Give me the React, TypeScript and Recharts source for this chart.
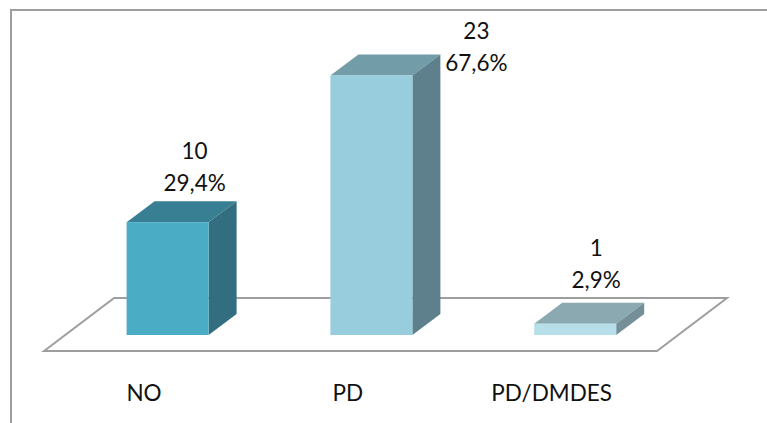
import React from 'react';
import { BarChart, Bar, XAxis, YAxis, LabelList, ReferenceArea } from 'recharts';

const categories = ['NO', 'PD', 'PD/DMDES'];
const counts = [10, 23, 1];
const shares = ['29,4%', '67,6%', '2,9%'];

const tableData = categories.map((name, i) => ({ name, count: counts[i], share: shares[i] }));

// front / top / side shade of each block
const faces = [
  { front: '#4BACC6', top: '#387F93', side: '#326E80' },
  { front: '#97CDDD', top: '#719CA8', side: '#5E7F8C' },
  { front: '#B7DFE9', top: '#8AA9B1', side: '#748F97' },
];

// hand-placed data labels: first baseline relative to the bar's top centre
const labelShift = [
  { dx: 27, dy: -63 },
  { dx: 105, dy: -37 },
  { dx: 21, dy: -68 },
];

const DEPTH_X = 28;
const DEPTH_Y = 21;
const FONT = 'Lato, "Open Sans", sans-serif';
const FONT_SIZE = 22.5;
const LINE = '#9E9E9E';

const Block = (props: any) => {
  const { x, y, width, height, index } = props;
  const c = faces[index];
  const r = x + width;
  const b = y + height;
  return (
    <g>
      <polygon points={`${x},${y} ${x + DEPTH_X},${y - DEPTH_Y} ${r + DEPTH_X},${y - DEPTH_Y} ${r},${y}`} fill={c.top} />
      <polygon points={`${r},${y} ${r + DEPTH_X},${y - DEPTH_Y} ${r + DEPTH_X},${b - DEPTH_Y} ${r},${b}`} fill={c.side} />
      <rect x={x} y={y} width={width} height={height} fill={c.front} />
    </g>
  );
};

// floor plate under the blocks, hung off the plot rectangle
const Floor = (props: any) => {
  const { x, y, width, height } = props;
  const base = y + height;
  const front = base + 16;
  const back = base - 37;
  const points = [
    `${x - 21.5},${front}`,
    `${x + width - 20},${front}`,
    `${x + width + 50},${back}`,
    `${x + 48.5},${back}`,
  ].join(' ');
  return <polygon points={points} fill="#fff" stroke={LINE} strokeWidth={2} />;
};

const CategoryTick = (props: any) => {
  const { x, y, payload } = props;
  return (
    <text x={x - 23.5} y={y + 58} textAnchor="middle" fontFamily={FONT} fontSize={FONT_SIZE} fill="#111">
      {payload.value}
    </text>
  );
};

const BlockLabel = (props: any) => {
  const { x, y, width, index } = props;
  const shift = labelShift[index];
  const cx = x + width / 2 + shift.dx;
  const top = y + shift.dy;
  return (
    <text textAnchor="middle" fontFamily={FONT} fontSize={FONT_SIZE} fill="#111">
      <tspan x={cx} y={top}>{counts[index]}</tspan>
      <tspan x={cx} y={top + 32}>{shares[index]}</tspan>
    </text>
  );
};

export default function App() {
  return (
    <div style={{ position: 'absolute', left: 0, top: 0, width: 767, height: 423, background: '#fff', overflow: 'hidden' }}>
      <div
        style={{
          position: 'absolute',
          left: 10,
          top: 9,
          width: 767,
          height: 423,
          borderLeft: `2px solid ${LINE}`,
          borderTop: `2px solid ${LINE}`,
        }}
      />
      <div style={{ position: 'absolute', left: 0, top: 0 }}>
        <BarChart
          width={767}
          height={423}
          data={tableData}
          margin={{ top: 53, right: 90, bottom: 28, left: 65.6 }}
          barSize={82}
        >
          <XAxis dataKey="name" height={60} axisLine={false} tickLine={false} tick={<CategoryTick />} interval={0} />
          <YAxis hide domain={[0, 25]} />
          <ReferenceArea y1={0} y2={25} shape={<Floor />} />
          <Bar dataKey="count" shape={<Block />} isAnimationActive={false}>
            <LabelList dataKey="count" content={<BlockLabel />} />
          </Bar>
        </BarChart>
      </div>
    </div>
  );
}
